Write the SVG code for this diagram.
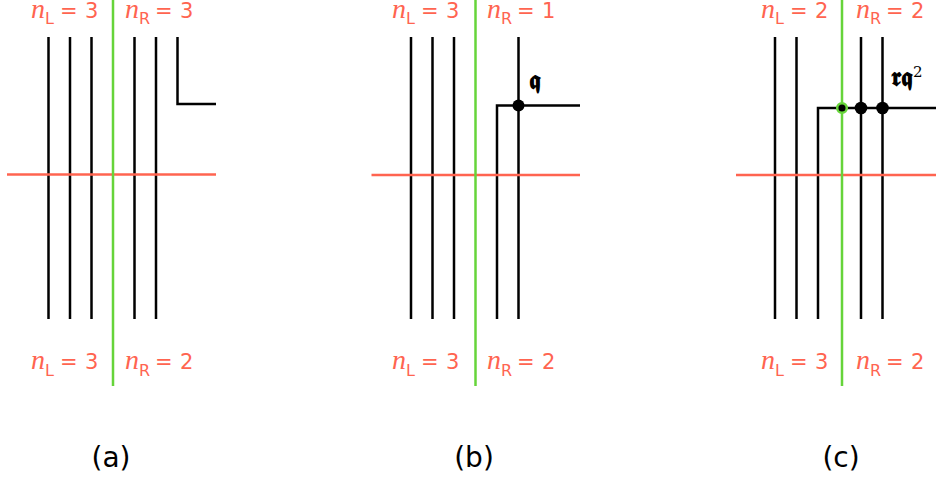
<svg xmlns="http://www.w3.org/2000/svg" width="936" height="480" viewBox="0 0 936 480">
<style>
.bk{stroke:#000;stroke-width:2.5;fill:none}
.rd{stroke:#ff6450;stroke-width:2.5;fill:none}
.gr{stroke:#66d43a;stroke-width:2.5;fill:none}
.dot{fill:#000}
.gdot{fill:#000;stroke:#66d43a;stroke-width:2.5}
.n{font-family:"Liberation Serif",serif;font-style:italic;font-size:28px;fill:#ff6450}
.s{font-family:"DejaVu Sans",sans-serif;font-size:16px;fill:#ff6450}
.v{font-family:"DejaVu Sans",sans-serif;font-size:21px;fill:#ff6450}
.cap{font-family:"DejaVu Sans",sans-serif;font-size:28px;fill:#000;text-anchor:middle}
.fk{font-family:"DejaVu Serif","Noto Sans",serif;font-weight:bold;font-size:26px;fill:#000}
</style>
<rect width="936" height="480" fill="#fff"/>
<!-- Panel (a) -->
<g id="panel-a">
<g id="connectors-a">
<path class="bk" d="M48.5 37V319M70 37V319M91.5 37V319M134.5 37V319M156 37V319"/>
<path class="bk" d="M177.5 37V104H216"/>
<path class="rd" d="M7 174.5H216"/>
<path class="gr" d="M113 0V386"/>
</g>
<g id="labels-a">
<text class="n" x="31" y="17.5">n</text><text class="s" x="45" y="24">L</text><text class="v" x="60" y="17.5">=</text><text class="v" x="85" y="17.5">3</text>
<text class="n" x="125" y="17.5">n</text><text class="s" x="139" y="24">R</text><text class="v" x="155" y="17.5">=</text><text class="v" x="180" y="17.5">3</text>
<text class="n" x="31" y="369">n</text><text class="s" x="45" y="375.5">L</text><text class="v" x="60" y="369">=</text><text class="v" x="85" y="369">3</text>
<text class="n" x="125" y="369">n</text><text class="s" x="139" y="375.5">R</text><text class="v" x="155" y="369">=</text><text class="v" x="180" y="369">2</text>
<text class="cap" x="111" y="467">(a)</text>
</g>
</g>
<!-- Panel (b) -->
<g id="panel-b">
<g id="connectors-b">
<path class="bk" d="M411 37V319M432.5 37V319M454 37V319M518.5 37V319"/>
<path class="bk" d="M497 319V105.5H580"/>
<path class="rd" d="M371.5 175H580"/>
<path class="gr" d="M475.5 0V386"/>
</g>
<g id="node-q">
<circle class="dot" cx="518.5" cy="105.5" r="6"/>
<text class="fk" x="529" y="89">𝖖</text>
</g>
<g id="labels-b">
<text class="n" x="392" y="17.5">n</text><text class="s" x="406" y="24">L</text><text class="v" x="421" y="17.5">=</text><text class="v" x="446" y="17.5">3</text>
<text class="n" x="487" y="17.5">n</text><text class="s" x="501" y="24">R</text><text class="v" x="517" y="17.5">=</text><text class="v" x="542" y="17.5">1</text>
<text class="n" x="392" y="369">n</text><text class="s" x="406" y="375.5">L</text><text class="v" x="421" y="369">=</text><text class="v" x="446" y="369">3</text>
<text class="n" x="487" y="369">n</text><text class="s" x="501" y="375.5">R</text><text class="v" x="517" y="369">=</text><text class="v" x="542" y="369">2</text>
<text class="cap" x="474" y="467">(b)</text>
</g>
</g>
<!-- Panel (c) -->
<g id="panel-c">
<g id="connectors-c">
<path class="bk" d="M775 37V319M796.5 37V319M861 37V319M882.5 37V319"/>
<path class="bk" d="M818 319V108H936"/>
<path class="rd" d="M736 175H936"/>
<path class="gr" d="M842 0V386"/>
</g>
<g id="node-green">
<circle class="gdot" cx="842" cy="108" r="4.8"/>
</g>
<g id="node-c1"><circle class="dot" cx="861" cy="108" r="6.3"/></g>
<g id="node-c2"><circle class="dot" cx="882.5" cy="108" r="6.3"/></g>
<g id="label-rq2">
<text class="fk" x="891" y="86">𝖗𝖖<tspan font-size="15" font-weight="normal" dy="-9">2</tspan></text>
</g>
<g id="labels-c">
<text class="n" x="761" y="17.5">n</text><text class="s" x="775" y="24">L</text><text class="v" x="790" y="17.5">=</text><text class="v" x="815" y="17.5">2</text>
<text class="n" x="856" y="17.5">n</text><text class="s" x="870" y="24">R</text><text class="v" x="886" y="17.5">=</text><text class="v" x="911" y="17.5">2</text>
<text class="n" x="761" y="369">n</text><text class="s" x="775" y="375.5">L</text><text class="v" x="790" y="369">=</text><text class="v" x="815" y="369">3</text>
<text class="n" x="856" y="369">n</text><text class="s" x="870" y="375.5">R</text><text class="v" x="886" y="369">=</text><text class="v" x="911" y="369">2</text>
<text class="cap" x="841" y="467">(c)</text>
</g>
</g>
</svg>
